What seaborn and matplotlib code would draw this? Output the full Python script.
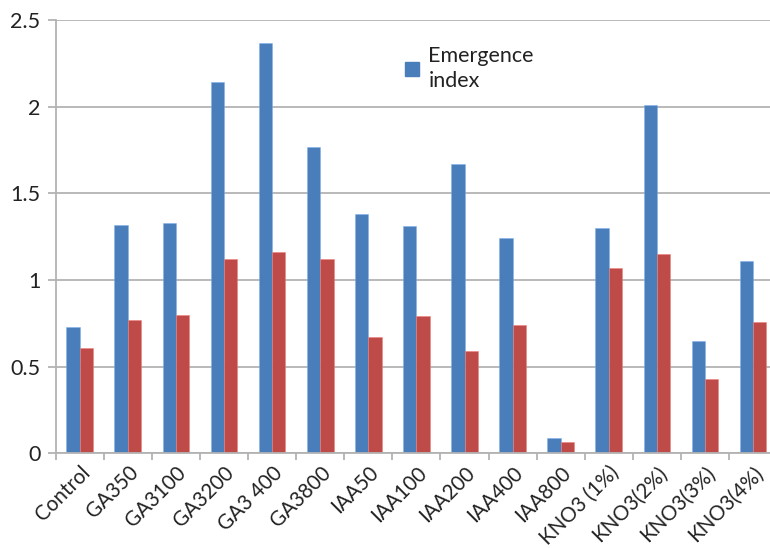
import matplotlib
matplotlib.use("Agg")
import matplotlib.pyplot as plt
import matplotlib.transforms as mtransforms
from matplotlib.patches import Patch
from matplotlib.ticker import FixedLocator
import numpy as np
import pandas as pd
import seaborn as sns

treatments = ["Control", "GA350", "GA3100", "GA3200", "GA3 400", "GA3800",
              "IAA50", "IAA100", "IAA200", "IAA400", "IAA800",
              "KNO3 (1%)", "KNO3(2%)", "KNO3(3%)", "KNO3(4%)"]
emergence_index = [0.73, 1.32, 1.33, 2.14, 2.37, 1.77, 1.38, 1.31, 1.67, 1.24,
                   0.09, 1.30, 2.01, 0.65, 1.11]
second_index = [0.61, 0.77, 0.80, 1.12, 1.16, 1.12, 0.67, 0.79, 0.59, 0.74,
                0.065, 1.07, 1.15, 0.43, 0.76]
y_ticks = [0, 0.5, 1, 1.5, 2, 2.5]
y_tick_labels = ["0", "0.5", "1", "1.5", "2", "2.5"]

series_names = ["Emergence\nindex", "Second index"]
df = pd.DataFrame({
    "treatment": treatments * 2,
    "value": emergence_index + second_index,
    "series": [series_names[0]] * len(treatments) + [series_names[1]] * len(treatments),
})

sns.set_style("white")
plt.rcParams["font.family"] = ["Lato", "DejaVu Sans"]

blue = "#4a7ebb"
red = "#be4b48"
grid_c = "#b3b3b3"
text_c = "#222222"
fs = 15.5

fig = plt.figure(figsize=(7.7, 5.48), dpi=100)
ax = fig.add_axes([0.0723, 0.1725, 0.937, 0.791])

sns.barplot(data=df, x="treatment", y="value", hue="series",
            palette=[blue, red], width=0.555, saturation=1, ax=ax,
            legend=False)
for bar in ax.patches:
    fc = bar.get_facecolor()
    bar.set_edgecolor((min(fc[0] + 0.2, 1), min(fc[1] + 0.2, 1), min(fc[2] + 0.2, 1), 0.6))
    bar.set_linewidth(0.6)

ax.set_xlim(-0.5, len(treatments) - 0.5)
ax.set_ylim(0, 2.5)
ax.set_yticks(y_ticks)
ax.set_yticklabels(y_tick_labels, fontsize=fs, color=text_c)
ax.yaxis.grid(True, color=grid_c, linewidth=1.3)
ax.set_axisbelow(True)

ax.set_xticks(range(len(treatments)))
ax.set_xticklabels(treatments, rotation=45, ha="right", rotation_mode="anchor",
                   fontsize=14.8, color=text_c)
shift = mtransforms.ScaledTranslation(-4 / 100, 0, fig.dpi_scale_trans)
for lbl in ax.get_xticklabels():
    lbl.set_transform(lbl.get_transform() + shift)
ax.tick_params(axis="x", which="major", length=0, pad=6.5)
ax.xaxis.set_minor_locator(FixedLocator(np.arange(-0.5, len(treatments), 1.0)))
ax.tick_params(axis="x", which="minor", length=5, color=grid_c, width=1.3, bottom=True)
ax.tick_params(axis="y", which="major", length=6, color=grid_c, width=1.3, left=True, pad=5)

ax.set_xlabel("")
ax.set_ylabel("")
for side in ["top", "right"]:
    ax.spines[side].set_visible(False)
for side in ["left", "bottom"]:
    ax.spines[side].set_color(grid_c)
    ax.spines[side].set_linewidth(1.3)

leg = ax.legend(handles=[Patch(facecolor=blue, edgecolor=blue)], labels=[series_names[0]],
                loc="upper left", bbox_to_anchor=(0.457, 0.985), frameon=False,
                fontsize=fs, handlelength=0.65, handleheight=0.65, handletextpad=0.45,
                labelcolor=text_c)
for t in leg.get_texts():
    t.set_linespacing(1.35)

fig.savefig("out.png", dpi=100)
